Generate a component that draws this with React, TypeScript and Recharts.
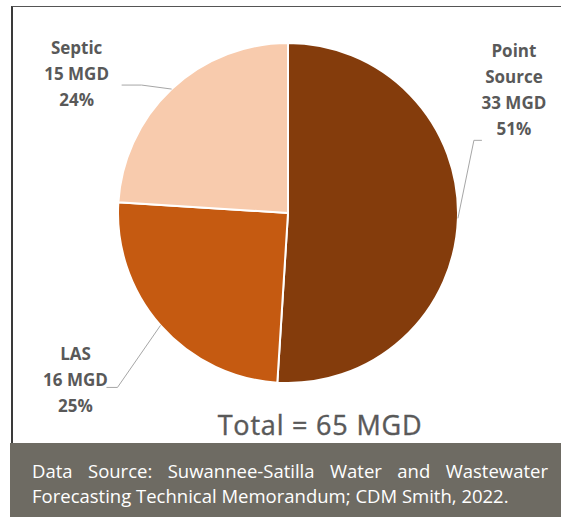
import { Cell, Pie, PieChart } from "recharts";

const categories = ["Point Source", "LAS", "Septic"];
const flowMgd = [33, 16, 15];
const sharePct = [51, 25, 24];
const totalMgd = 65;
const sourceLines = [
  "Data Source: Suwannee-Satilla Water and Wastewater",
  "Forecasting Technical Memorandum; CDM Smith, 2022.",
];

const sliceColors = ["#843c0c", "#c55a11", "#f8cbad"];

// leader line elbow / end and label block position, relative to the slice's edge point
const labelLayout = [
  { elbow: [16, -78], end: [24, -78], text: [56, -168], wrap: true },
  { elbow: [-43, 62], end: [-54, 62], text: [-85, 28], wrap: false },
  { elbow: [-30, -4], end: [-50, -4], text: [-95, -42], wrap: false },
];

const data = categories.map((name, i) => ({
  name,
  mgd: flowMgd[i],
  pct: sharePct[i],
}));

const RADIAN = Math.PI / 180;

function renderLabel(props: any) {
  const { cx, cy, midAngle, outerRadius, index } = props;
  const d = data[index];
  const lay = labelLayout[index];
  const sx = cx + outerRadius * Math.cos(-midAngle * RADIAN);
  const sy = cy + outerRadius * Math.sin(-midAngle * RADIAN);
  const ex = sx + lay.elbow[0];
  const ey = sy + lay.elbow[1];
  const fx = sx + lay.end[0];
  const fy = sy + lay.end[1];
  const tx = sx + lay.text[0];
  const ty = sy + lay.text[1];
  const lines = [
    ...(lay.wrap ? d.name.split(" ") : [d.name]),
    `${d.mgd} MGD`,
    `${d.pct}%`,
  ];
  return (
    <g key={`lbl-${index}`}>
      <polyline
        points={`${sx},${sy} ${ex},${ey} ${fx},${fy}`}
        fill="none"
        stroke="#a6a6a6"
        strokeWidth={1}
      />
      <text
        textAnchor="middle"
        fontFamily="'Open Sans'"
        fontWeight={700}
        fontSize={17}
        fill="#595959"
      >
        {lines.map((l, i) => (
          <tspan key={i} x={tx} y={ty + i * 26} dominantBaseline="central">
            {l}
          </tspan>
        ))}
      </text>
    </g>
  );
}

export default function App() {
  return (
    <div
      style={{
        position: "absolute",
        left: 0,
        top: 0,
        width: 561,
        height: 517,
        overflow: "hidden",
        background: "#ffffff",
      }}
    >
      <div style={{ position: "absolute", left: 0, top: 0 }}>
        <PieChart
          width={561}
          height={443}
          margin={{ top: 0, right: 0, bottom: 0, left: 0 }}
        >
          <Pie
            data={data}
            dataKey="pct"
            nameKey="name"
            cx={288}
            cy={213}
            outerRadius={170}
            startAngle={90}
            endAngle={-270}
            stroke="#ffffff"
            strokeWidth={2}
            label={renderLabel}
            labelLine={false}
            isAnimationActive={false}
          >
            {data.map((d, i) => (
              <Cell key={d.name} fill={sliceColors[i]} />
            ))}
          </Pie>
        </PieChart>
      </div>
      <div
        style={{
          position: "absolute",
          left: 11,
          top: 6,
          width: 560,
          height: 437,
          borderTop: "1px solid #555555",
          borderLeft: "2px solid #3a3a3a",
          boxSizing: "border-box",
          pointerEvents: "none",
        }}
      />
      <svg
        width={561}
        height={443}
        style={{ position: "absolute", left: 0, top: 0, pointerEvents: "none" }}
      >
        <text
          x={320}
          y={435}
          textAnchor="middle"
          fontFamily="'Open Sans'"
          fontSize={27}
          letterSpacing={0.8}
          fill="#595959"
          stroke="#595959"
          strokeWidth={0.4}
        >
          {`Total = ${totalMgd} MGD`}
        </text>
      </svg>
      <div
        style={{
          position: "absolute",
          left: 10,
          top: 443,
          width: 551,
          height: 74,
          background: "#6e6b63",
          color: "#ffffff",
          fontFamily: "'Open Sans'",
          fontSize: 18.5,
          lineHeight: "25px",
          boxSizing: "border-box",
          padding: "15px 13px 0 22px",
        }}
      >
        <div style={{ textAlign: "justify", textAlignLast: "justify" }}>
          {sourceLines[0]}
        </div>
        <div>{sourceLines[1]}</div>
      </div>
    </div>
  );
}
